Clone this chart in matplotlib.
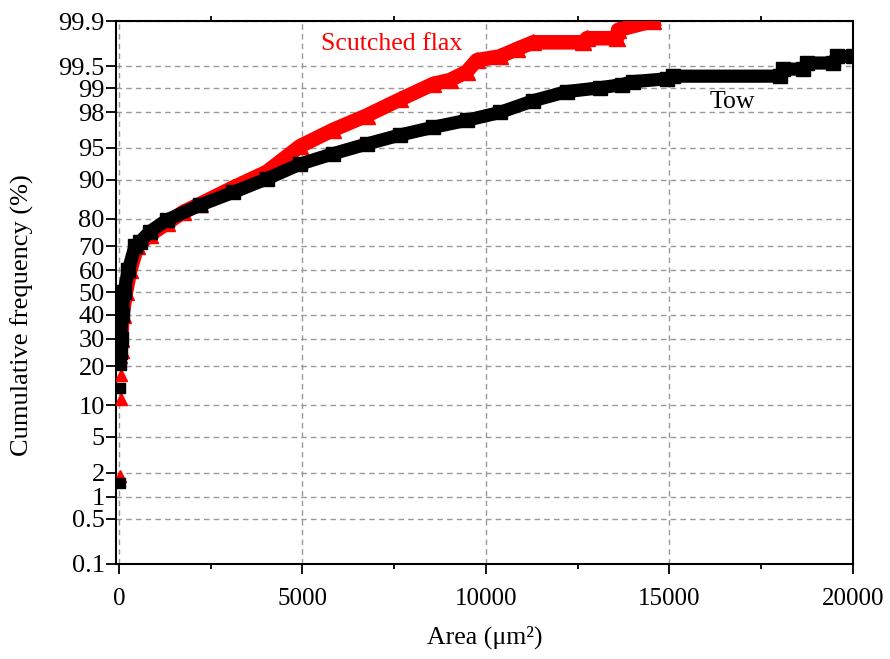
from statistics import NormalDist
import numpy as np
import matplotlib
matplotlib.use("Agg")
from matplotlib import pyplot as plt
from matplotlib.ticker import FixedLocator, FixedFormatter

# Tow (black squares): area (um^2) and cumulative frequency (%)
# first few samples sit apart from the main band
tow_low_area = [30, 30, 50]
tow_low_freq = [1.51, 13.9, 20.5]
tow_area = [35, 46, 82, 136, 255, 436, 572, 845, 1300, 2207, 3115, 4025,
            4932, 5840, 6750, 7657, 8565, 9475, 10380, 11290, 12200, 13100,
            13700, 14000, 14925, 15100, 18000, 18100, 18640, 18750, 19450,
            19560, 20000]
tow_freq = [25.0, 30.0, 40.0, 50.0, 60.0, 70.0, 71.8, 75.6, 79.5,
            84.0, 87.3, 90.2, 92.8, 94.3, 95.45, 96.35, 97.0, 97.5, 97.98,
            98.55, 98.89, 99.01, 99.1, 99.18, 99.25, 99.31, 99.31, 99.45,
            99.45, 99.55, 99.55, 99.64, 99.64]

# Scutched flax (red triangles)
flax_low_area = [40, 55, 55, 55]
flax_low_freq = [1.84, 11.3, 17.4, 23.3]
flax_area = [50, 60, 100, 190, 310, 500, 845, 1300, 1750, 2207, 3115,
             4025, 4932, 5840, 6750, 7657, 8565, 9020, 9475, 9750, 10380,
             10840, 11290, 12645, 12750, 13570, 13600, 14550]
flax_freq = [25.5, 30.0, 40.0, 50.0, 60.0, 70.0, 74.4, 78.4,
             82.0, 84.3, 88.4, 91.5, 95.2, 96.8, 97.8, 98.6, 99.12, 99.22,
             99.40, 99.59, 99.64, 99.72, 99.78, 99.78, 99.81, 99.81, 99.86,
             99.9]

y_ticks = [0.1, 0.5, 1, 2, 5, 10, 20, 30, 40, 50, 60, 70, 80, 90, 95, 98, 99,
           99.5, 99.9]
y_labels = ["0.1", "0.5", "1", "2", "5", "10", "20", "30", "40", "50", "60",
            "70", "80", "90", "95", "98", "99", "99.5", "99.9"]
x_ticks = [0, 5000, 10000, 15000, 20000]

_nd = NormalDist()
_ppf = np.vectorize(_nd.inv_cdf, otypes=[float])
_cdf = np.vectorize(_nd.cdf, otypes=[float])


def prob_forward(p):
    p = np.clip(np.asarray(p, dtype=float) / 100.0, 1e-9, 1 - 1e-9)
    return _ppf(p)


def prob_inverse(z):
    return _cdf(np.asarray(z, dtype=float)) * 100.0


plt.rcParams["font.family"] = ["Liberation Serif", "DejaVu Serif"]

fig = plt.figure(figsize=(8.9, 6.59), dpi=100)
ax = fig.add_axes([0.1303, 0.1442, 0.8281, 0.8239])
ax.set_yscale("function", functions=(prob_forward, prob_inverse))

ax.plot(flax_area, flax_freq, color="red", lw=10.5, marker="^", ms=11,
        solid_joinstyle="round", zorder=3)
ax.plot(flax_low_area, flax_low_freq, ls="none", color="red", marker="^",
        ms=9, zorder=3)
ax.plot(tow_area, tow_freq, color="black", lw=9.5, marker="s", ms=9.5,
        solid_joinstyle="round", zorder=4)
ax.plot(tow_low_area, tow_low_freq, ls="none", color="black", marker="s",
        ms=7.5, zorder=4)

ax.set_xlim(-80, 20000)
ax.set_ylim(0.1, 99.9)
ax.yaxis.set_major_locator(FixedLocator(y_ticks))
ax.yaxis.set_major_formatter(FixedFormatter(y_labels))
ax.yaxis.set_minor_locator(FixedLocator([]))
ax.set_xticks(x_ticks)
ax.set_xticklabels([str(v) for v in x_ticks])
ax.set_xticks([2500, 7500, 12500, 17500], minor=True)

ax.grid(True, which="major", color="#999999", ls=(0, (4, 3)), lw=1)
ax.tick_params(axis="y", which="major", direction="out", length=7, width=1.3,
               labelsize=19, right=False, pad=1)
ax.tick_params(axis="x", which="major", direction="out", length=7, width=1.3,
               labelsize=18, top=False, pad=10)
ax.tick_params(axis="x", which="minor", direction="out", length=3.6, width=1.3,
               top=True)
for s in ax.spines.values():
    s.set_linewidth(1.5)

ax.set_xlabel("Area (μm²)", fontsize=18.5)
ax.set_ylabel("Cumulative frequency (%)", fontsize=19)
ax.xaxis.set_label_coords(0.5, -0.114)
ax.yaxis.set_label_coords(-0.1275, 0.459)
ax.xaxis.label.set_va("top")
ax.yaxis.label.set_va("center")

ax.text(7440, 99.77, "Scutched flax", color="red", fontsize=18.5,
        ha="center", va="center")
ax.text(16700, 98.49, "Tow", color="black", fontsize=18.5,
        ha="center", va="center")

plt.savefig("out.png", dpi=100)
